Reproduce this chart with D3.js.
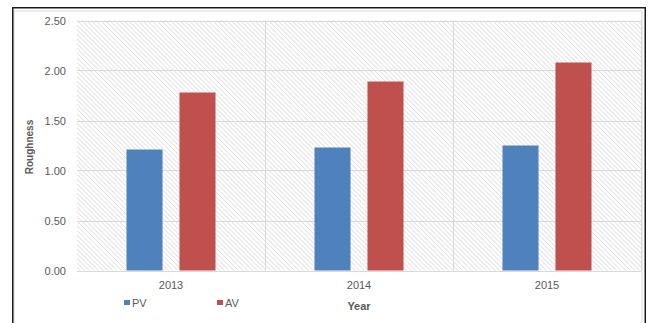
<!DOCTYPE html>
<html>
<head>
<meta charset="utf-8">
<script src="https://cdn.jsdelivr.net/npm/d3@7"></script>
<style>
  html, body { margin: 0; padding: 0; background: #ffffff; }
  svg { display: block; }
  text { font-family: "Liberation Sans", Arial, sans-serif; }
</style>
</head>
<body>
<svg id="chart" width="653" height="323"></svg>
<script>
// Surface roughness by year for PV and AV
const years = ["2013", "2014", "2015"];
const seriesNames = ["PV", "AV"];
const pvValues = [1.21, 1.23, 1.25];
const avValues = [1.78, 1.89, 2.08];
const yTicks = [0, 0.5, 1.0, 1.5, 2.0, 2.5];
const colors = { PV: "#4f81bd", AV: "#c0504d" };

const rows = years.map((y, i) => ({ year: y, PV: pvValues[i], AV: avValues[i] }));

const svg = d3.select("#chart");
const plot = { left: 77, right: 641, top: 20.5, bottom: 270.5 };

// Outer frame and inner chart-area border
svg.append("rect")
  .attr("x", 14).attr("y", 11).attr("width", 628).attr("height", 330)
  .attr("fill", "none").attr("stroke", "#d9d9d9").attr("stroke-width", 1);
svg.append("rect")
  .attr("x", 12.75).attr("y", 7.75).attr("width", 632.5).attr("height", 340)
  .attr("fill", "none").attr("stroke", "#1a1a1a").attr("stroke-width", 1.5);

// Diagonal hatch fill for the plot background
const defs = svg.append("defs");
const pat = defs.append("pattern")
  .attr("id", "hatch")
  .attr("patternUnits", "userSpaceOnUse")
  .attr("width", 3.3).attr("height", 3.3)
  .attr("patternTransform", "rotate(-45)");
pat.append("rect").attr("width", 3.3).attr("height", 3.3).attr("fill", "#ffffff");
pat.append("line")
  .attr("x1", 0).attr("y1", 0).attr("x2", 0).attr("y2", 3.3)
  .attr("stroke", "#cfcfcf").attr("stroke-width", 1.1);

const x0 = d3.scaleBand().domain(years).range([plot.left, plot.right]).padding(0);
const x1 = d3.scaleBand().domain(seriesNames)
  .range([0, x0.bandwidth()])
  .paddingInner(0.32).paddingOuter(0.934);
const y = d3.scaleLinear().domain([0, 2.5]).range([plot.bottom, plot.top]);

svg.append("rect")
  .attr("x", plot.left).attr("y", plot.top)
  .attr("width", plot.right - plot.left).attr("height", plot.bottom - plot.top)
  .attr("fill", "url(#hatch)");

// Horizontal gridlines
svg.append("g")
  .selectAll("line")
  .data(yTicks)
  .join("line")
  .attr("x1", plot.left).attr("x2", plot.right)
  .attr("y1", d => Math.round(y(d)) + 0.5).attr("y2", d => Math.round(y(d)) + 0.5)
  .attr("stroke", "#d9d9d9").attr("stroke-width", 1);

// Vertical category dividers
const dividers = years.slice(1).map(yr => x0(yr)).concat([plot.right]);
svg.append("g")
  .selectAll("line")
  .data(dividers)
  .join("line")
  .attr("x1", d => Math.round(d) + 0.5).attr("x2", d => Math.round(d) + 0.5)
  .attr("y1", plot.top).attr("y2", plot.bottom)
  .attr("stroke", "#d9d9d9").attr("stroke-width", 1);

// Bars
const groups = svg.append("g")
  .selectAll("g")
  .data(rows)
  .join("g")
  .attr("transform", d => `translate(${x0(d.year)},0)`);
groups.selectAll("rect")
  .data(d => seriesNames.map(s => ({ key: s, value: d[s] })))
  .join("rect")
  .attr("x", d => x1(d.key))
  .attr("width", x1.bandwidth())
  .attr("y", d => y(d.value))
  .attr("height", d => y(0) - y(d.value))
  .attr("fill", d => colors[d.key]);

// Y axis labels
const yAxis = d3.axisLeft(y).tickValues(yTicks).tickFormat(d3.format(".2f")).tickSize(0).tickPadding(0);
const gy = svg.append("g").attr("transform", `translate(66,0)`).call(yAxis);
gy.select(".domain").remove();
gy.selectAll("text")
  .attr("fill", "#595959").style("font-size", "11px")
  .style("font-family", "'Liberation Sans', Arial, sans-serif");

// X axis labels
const xAxis = d3.axisBottom(x0).tickSize(0).tickPadding(0);
const gx = svg.append("g").attr("transform", `translate(0,281)`).call(xAxis);
gx.select(".domain").remove();
gx.selectAll("text")
  .attr("fill", "#595959").style("font-size", "11px")
  .style("font-family", "'Liberation Sans', Arial, sans-serif");

// Axis titles
svg.append("text")
  .attr("x", 359).attr("y", 310)
  .attr("text-anchor", "middle")
  .attr("fill", "#595959")
  .style("font-size", "11px").style("font-weight", "bold")
  .text("Year");
svg.append("text")
  .attr("transform", `translate(33,147) rotate(-90)`)
  .attr("text-anchor", "middle")
  .attr("fill", "#595959")
  .style("font-size", "10px").style("font-weight", "bold")
  .text("Roughness");

// Legend
const legendPos = { PV: 124, AV: 217 };
const legend = svg.append("g")
  .selectAll("g")
  .data(seriesNames)
  .join("g")
  .attr("transform", d => `translate(${legendPos[d]},300)`);
legend.append("rect")
  .attr("width", 6).attr("height", 5)
  .attr("fill", d => colors[d]);
legend.append("text")
  .attr("x", 8).attr("y", 6.5)
  .attr("fill", "#595959")
  .style("font-size", "11px")
  .text(d => d);
</script>
</body>
</html>
